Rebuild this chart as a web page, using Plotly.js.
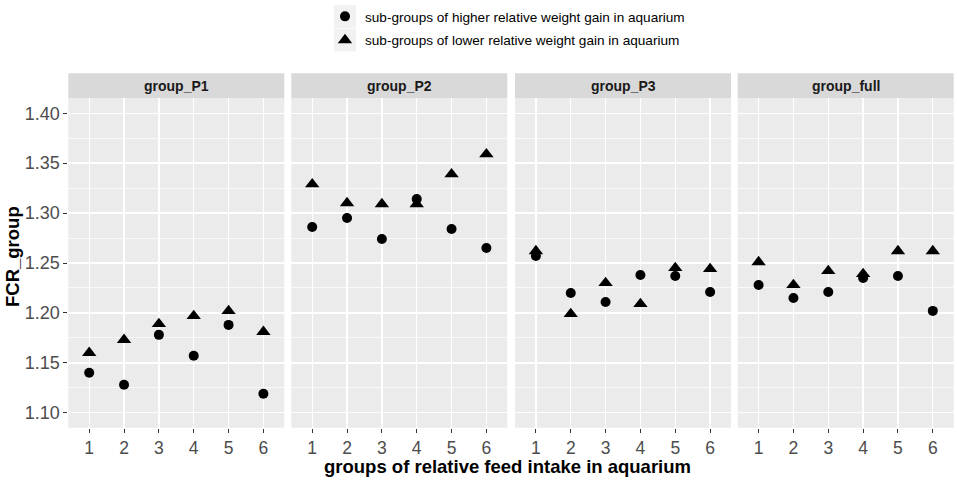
<!DOCTYPE html>
<html>
<head>
<meta charset="utf-8">
<script src="https://cdn.plot.ly/plotly-3.0.1.min.js"></script>
<style>html,body{margin:0;padding:0;background:#fff;}#chart{width:957px;height:480px;}</style>
</head>
<body>
<div id="chart"></div>
<script>
const W = 957, H = 480;
const xVals = [1, 2, 3, 4, 5, 6];
const xTickLabels = ['1', '2', '3', '4', '5', '6'];
const panels = ['group_P1', 'group_P2', 'group_P3', 'group_full'];
const yTickVals = [1.10, 1.15, 1.20, 1.25, 1.30, 1.35, 1.40];
const seriesNames = ['sub-groups of higher relative weight gain in aquarium',
                     'sub-groups of lower relative weight gain in aquarium'];

const higherP1   = [1.140, 1.128, 1.178, 1.157, 1.188, 1.119];
const higherP2   = [1.286, 1.295, 1.274, 1.314, 1.284, 1.265];
const higherP3   = [1.257, 1.220, 1.211, 1.238, 1.237, 1.221];
const higherFull = [1.228, 1.215, 1.221, 1.235, 1.237, 1.202];
const lowerP1    = [1.160, 1.173, 1.189, 1.197, 1.202, 1.181];
const lowerP2    = [1.329, 1.310, 1.309, 1.309, 1.339, 1.359];
const lowerP3    = [1.262, 1.199, 1.230, 1.209, 1.245, 1.244];
const lowerFull  = [1.251, 1.228, 1.242, 1.239, 1.262, 1.262];

const higher = [higherP1, higherP2, higherP3, higherFull];
const lower = [lowerP1, lowerP2, lowerP3, lowerFull];

// layout in pixels
const panelLeft = [68.3, 291.3, 515.0, 737.7];
const panelWidth = 216;
const plotTop = 98.3, plotBottom = 427.7;
const stripTop = 73.3;
const px = v => v / W;
const py = v => 1 - v / H;

const traces = [];
panels.forEach((p, i) => {
  const xa = i === 0 ? 'x' : 'x' + (i + 1);
  traces.push({
    x: xVals, y: lower[i], xaxis: xa, yaxis: 'y', type: 'scatter', mode: 'markers',
    name: seriesNames[1], legendgroup: 'lo', showlegend: i === 0, legendrank: 2,
    marker: {symbol: 'triangle-up', size: 12.5, color: '#000000'}
  });
  traces.push({
    x: xVals, y: higher[i], xaxis: xa, yaxis: 'y', type: 'scatter', mode: 'markers',
    name: seriesNames[0], legendgroup: 'hi', showlegend: i === 0, legendrank: 1,
    marker: {symbol: 'circle', size: 10, color: '#000000'}
  });
});

const font = 'Liberation Sans, Arial, sans-serif';
const layout = {
  width: W, height: H,
  margin: {l: 0, r: 0, t: 0, b: 0},
  paper_bgcolor: '#ffffff',
  plot_bgcolor: '#EBEBEB',
  font: {family: font, color: '#000000'},
  showlegend: true,
  legend: {
    x: px(325), xanchor: 'left', y: py(1), yanchor: 'top',
    orientation: 'v', traceorder: 'grouped', tracegroupgap: 3,
    font: {size: 13.6, family: font, color: '#000000'},
    bgcolor: 'rgba(0,0,0,0)', borderwidth: 0
  },
  yaxis: {
    domain: [py(plotBottom), py(plotTop)],
    range: [1.085, 1.415],
    tickvals: yTickVals, tickformat: '.2f',
    ticks: 'outside', ticklen: 4, tickwidth: 1, tickcolor: '#333333',
    ticklabelstandoff: 0,
    tickfont: {size: 18, color: '#4D4D4D', family: font},
    showgrid: true, gridcolor: '#FFFFFF', gridwidth: 1.4,
    minor: {dtick: 0.025, tick0: 1.1, showgrid: true, gridcolor: '#FFFFFF', gridwidth: 0.7, ticks: ''},
    zeroline: false, showline: false, anchor: 'x', fixedrange: true
  },
  shapes: [],
  annotations: []
};

panels.forEach((p, i) => {
  const key = i === 0 ? 'xaxis' : 'xaxis' + (i + 1);
  layout[key] = {
    domain: [px(panelLeft[i]), px(panelLeft[i] + panelWidth)],
    range: [0.4, 6.6],
    tickvals: xVals, ticktext: xTickLabels,
    ticks: 'outside', ticklen: 4, tickwidth: 1, tickcolor: '#333333',
    tickfont: {size: 17.5, color: '#4D4D4D', family: font},
    showgrid: true, gridcolor: '#FFFFFF', gridwidth: 1.4,
    zeroline: false, showline: false, anchor: 'y', fixedrange: true
  };
  layout.shapes.push({
    type: 'rect', xref: 'paper', yref: 'paper',
    x0: px(panelLeft[i]), x1: px(panelLeft[i] + panelWidth),
    y0: py(plotTop), y1: py(stripTop),
    fillcolor: '#D9D9D9', line: {width: 0}, layer: 'below'
  });
  layout.annotations.push({
    xref: 'paper', yref: 'paper',
    x: px(panelLeft[i] + panelWidth / 2), y: py((stripTop + plotTop) / 2),
    xanchor: 'center', yanchor: 'middle', showarrow: false,
    text: '<b>' + p + '</b>',
    font: {size: 14, color: '#1A1A1A', family: font}
  });
});

// legend key backgrounds
[[5, 28], [28.5, 51.5]].forEach(([a, b]) => {
  layout.shapes.push({
    type: 'rect', xref: 'paper', yref: 'paper',
    x0: px(334), x1: px(356), y0: py(b), y1: py(a),
    fillcolor: '#F2F2F2', line: {width: 0}, layer: 'below'
  });
});

layout.annotations.push({
  xref: 'paper', yref: 'paper', x: px(507), y: py(466),
  xanchor: 'center', yanchor: 'middle', showarrow: false,
  text: '<b>groups of relative feed intake in aquarium</b>',
  font: {size: 18.5, color: '#000000', family: font}
});
layout.annotations.push({
  xref: 'paper', yref: 'paper', x: px(12), y: py(257),
  xanchor: 'center', yanchor: 'middle', showarrow: false, textangle: -90,
  text: '<b>FCR_group</b>',
  font: {size: 18.5, color: '#000000', family: font}
});

Plotly.newPlot('chart', traces, layout, {staticPlot: true, displayModeBar: false});
</script>
</body>
</html>
